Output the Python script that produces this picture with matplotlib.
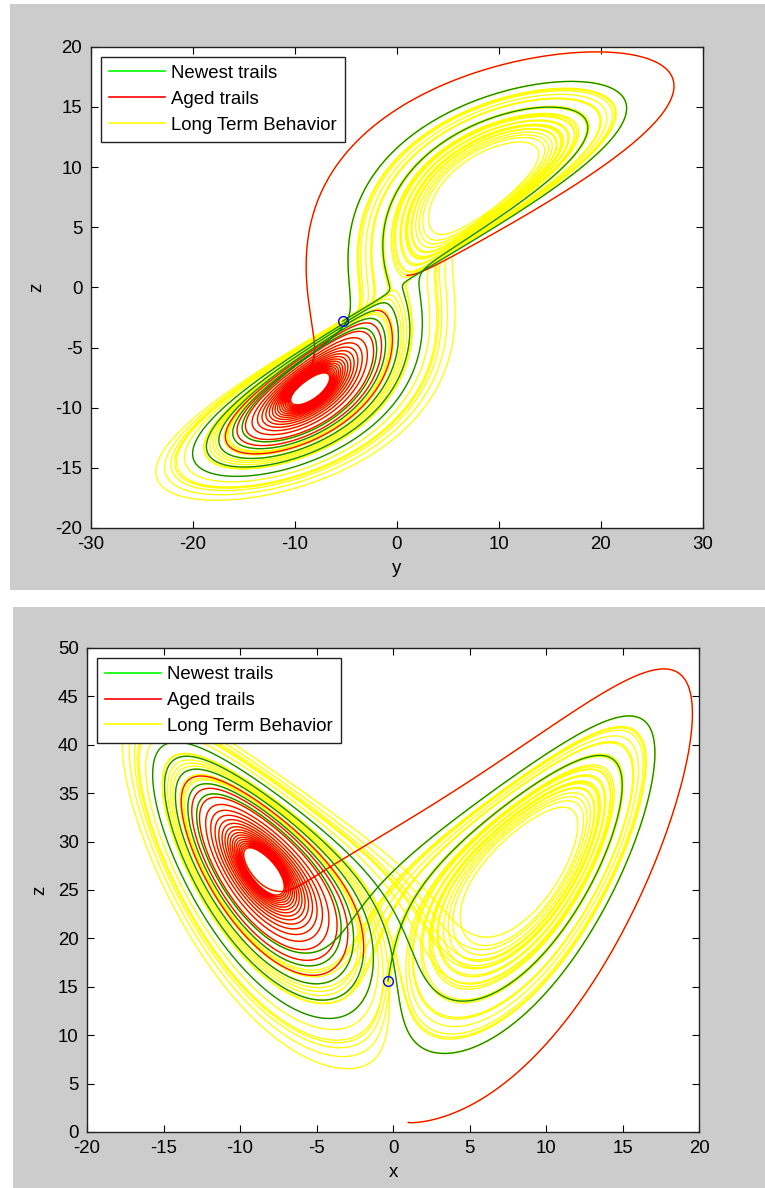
import numpy as np
import matplotlib
matplotlib.use("Agg")
import matplotlib.pyplot as plt
from matplotlib.lines import Line2D
from matplotlib.patches import Rectangle

# ---------------- data (Lorenz system) ----------------
SIGMA = 10.0
RHO = 28.0
BETA = 8.0 / 3.0
INITIAL_STATE = [1.0, 1.0, 1.0]      # red trail starts at x=1, z=1
TIME_STEP = 0.002
T_TOTAL = 50.0                        # long term behaviour span
T_AGED_END = 12.8                     # end of the aged (red) trail
T_SEARCH = 18.0                       # current point searched after this time
MARKER_X_TOP = -2.78                  # blue circle x value, top panel
MARKER_X_BOTTOM = -0.33               # blue circle x value, bottom panel

TOP_XTICKS = [-30, -20, -10, 0, 10, 20, 30]
TOP_YTICKS = [-20, -15, -10, -5, 0, 5, 10, 15, 20]
BOT_XTICKS = [-20, -15, -10, -5, 0, 5, 10, 15, 20]
BOT_YTICKS = [0, 5, 10, 15, 20, 25, 30, 35, 40, 45, 50]
LEGEND_LABELS = ["Newest trails", "Aged trails", "Long Term Behavior"]


def lorenz(s):
    x, y, z = s
    return np.array([SIGMA * (y - x), x * (RHO - z) - y, x * y - BETA * z])


def integrate(s0, T, dt):
    n = int(round(T / dt))
    s = np.array(s0, float)
    out = np.empty((n + 1, 3))
    out[0] = s
    for i in range(n):
        k1 = lorenz(s)
        k2 = lorenz(s + dt / 2 * k1)
        k3 = lorenz(s + dt / 2 * k2)
        k4 = lorenz(s + dt * k3)
        s = s + dt / 6 * (k1 + 2 * k2 + 2 * k3 + k4)
        out[i + 1] = s
    return out


traj = integrate(INITIAL_STATE, T_TOTAL, TIME_STEP)
X, Y, Z = traj.T
i_aged = int(round(T_AGED_END / TIME_STEP))
i0 = int(round(T_SEARCH / TIME_STEP))


def now_index(xm):
    return i0 + int(np.argmax(X[i0:] < xm))


i_now_top = now_index(MARKER_X_TOP)
i_now_bot = now_index(MARKER_X_BOTTOM)

# ---------------- figure ----------------
plt.rcParams['font.family'] = ['Liberation Sans', 'DejaVu Sans']
plt.rcParams['axes.unicode_minus'] = False
W, H = 765, 1188
fig = plt.figure(figsize=(W / 100, H / 100), dpi=100, facecolor='white')
GRAY = '#cccccc'
fig.patches.append(Rectangle((10 / W, 1 - 590 / H), (W - 10) / W, 586 / H,
                             transform=fig.transFigure, facecolor=GRAY,
                             edgecolor='none', zorder=-10))
fig.patches.append(Rectangle((13 / W, 0), (W - 13) / W, (H - 607) / H,
                             transform=fig.transFigure, facecolor=GRAY,
                             edgecolor='none', zorder=-10))

GREEN_PLOT = '#0b8a0b'
YELLOW = '#ffff00'
RED = '#ff0000'
FS = 13.4
LW = 0.95


def style(ax, xt, yt, xl, yl):
    ax.set_xticks(xt)
    ax.set_yticks(yt)
    ax.set_xlim(xt[0], xt[-1])
    ax.set_ylim(yt[0], yt[-1])
    ax.tick_params(direction='in', top=True, right=True, length=5, width=0.8,
                   labelsize=FS, pad=6, colors='black')
    for sp in ax.spines.values():
        sp.set_linewidth(1.0)
        sp.set_color('#222222')
    ax.set_xlabel(xl, fontsize=FS, labelpad=5)
    ax.set_ylabel(yl, fontsize=FS, labelpad=7)
    handles = [Line2D([], [], color='#00ff00', lw=1.2),
               Line2D([], [], color=RED, lw=1.2),
               Line2D([], [], color=YELLOW, lw=1.2)]
    leg = ax.legend(handles, LEGEND_LABELS, loc='upper left', fontsize=FS,
                    fancybox=False, edgecolor='#222222', framealpha=1,
                    handlelength=3.0, handletextpad=0.35, labelspacing=0.48,
                    borderpad=0.42, borderaxespad=0.55)
    leg.get_frame().set_linewidth(1.0)
    leg.set_zorder(10)


def draw(ax, a, b, i_now):
    ax.plot(a, b, color=YELLOW, lw=LW, zorder=2)
    ax.plot(a[:i_aged + 1], b[:i_aged + 1], color=RED, lw=LW, zorder=3)
    ax.plot(a[i_aged:i_now + 1], b[i_aged:i_now + 1], color=GREEN_PLOT, lw=LW, zorder=4)
    ax.plot([a[i_now]], [b[i_now]], 'o', mfc='none', mec='#0000ff', ms=7, mew=1.0, zorder=5)


# top panel: y horizontal, x vertical (labelled z in the chart)
ax1 = fig.add_axes([90.7 / W, 1 - 528 / H, 612 / W, 481.3 / H])
draw(ax1, Y, X, i_now_top)
style(ax1, TOP_XTICKS, TOP_YTICKS, 'y', 'z')

# bottom panel: x horizontal, z vertical
ax2 = fig.add_axes([87 / W, 1 - 1132 / H, 612 / W, 484 / H])
draw(ax2, X, Z, i_now_bot)
style(ax2, BOT_XTICKS, BOT_YTICKS, 'x', 'z')

fig.savefig("out.png", dpi=100, facecolor='white')
